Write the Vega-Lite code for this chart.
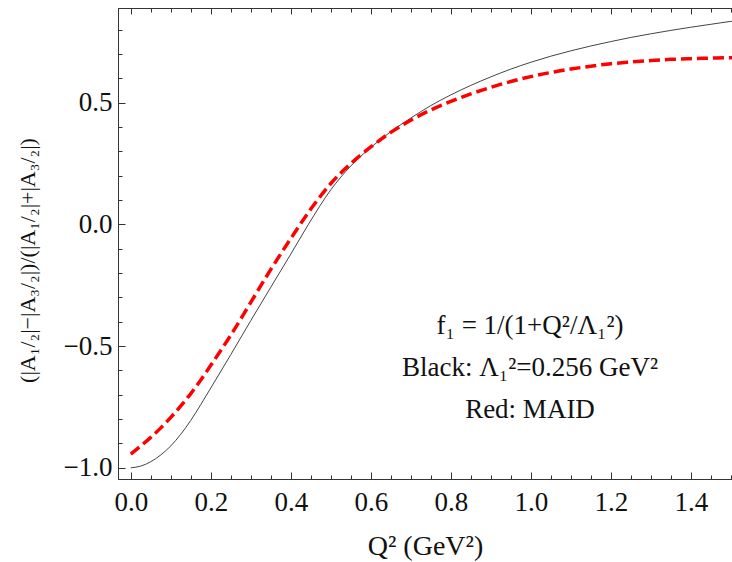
{
  "$schema": "https://vega.github.io/schema/vega-lite/v6.json",
  "width": 614,
  "height": 471,
  "autosize": {"type": "none"},
  "padding": {"left": 118, "top": 8, "right": 0, "bottom": 83},
  "background": "white",
  "config": {
    "view": {"stroke": "#333", "strokeWidth": 1},
    "font": "Times New Roman, Liberation Serif, serif"
  },
  "datasets": {
    "black": [
      {"q": 0.0, "v": -1.0}, {"q": 0.025, "v": -0.993}, {"q": 0.05, "v": -0.975}, {"q": 0.075, "v": -0.947},
      {"q": 0.1, "v": -0.91}, {"q": 0.125, "v": -0.862}, {"q": 0.15, "v": -0.805}, {"q": 0.175, "v": -0.74},
      {"q": 0.2, "v": -0.672}, {"q": 0.25, "v": -0.535}, {"q": 0.3, "v": -0.395}, {"q": 0.35, "v": -0.258},
      {"q": 0.4, "v": -0.122}, {"q": 0.444, "v": 0.0}, {"q": 0.5, "v": 0.142}, {"q": 0.55, "v": 0.24},
      {"q": 0.6, "v": 0.316}, {"q": 0.65, "v": 0.381}, {"q": 0.7, "v": 0.437}, {"q": 0.75, "v": 0.488},
      {"q": 0.8, "v": 0.532}, {"q": 0.85, "v": 0.571}, {"q": 0.9, "v": 0.606}, {"q": 0.95, "v": 0.638},
      {"q": 1.0, "v": 0.666}, {"q": 1.05, "v": 0.691}, {"q": 1.1, "v": 0.713}, {"q": 1.15, "v": 0.733},
      {"q": 1.2, "v": 0.751}, {"q": 1.25, "v": 0.768}, {"q": 1.3, "v": 0.783}, {"q": 1.35, "v": 0.797},
      {"q": 1.4, "v": 0.81}, {"q": 1.45, "v": 0.822}, {"q": 1.5, "v": 0.834}, {"q": 1.51, "v": 0.836}
    ],
    "red": [
      {"q": 0.0, "v": -0.944}, {"q": 0.025, "v": -0.91}, {"q": 0.05, "v": -0.875}, {"q": 0.075, "v": -0.836},
      {"q": 0.1, "v": -0.793}, {"q": 0.125, "v": -0.746}, {"q": 0.15, "v": -0.695}, {"q": 0.175, "v": -0.639},
      {"q": 0.2, "v": -0.579}, {"q": 0.25, "v": -0.455}, {"q": 0.3, "v": -0.32}, {"q": 0.35, "v": -0.185},
      {"q": 0.4, "v": -0.058}, {"q": 0.45, "v": 0.063}, {"q": 0.5, "v": 0.168}, {"q": 0.55, "v": 0.25},
      {"q": 0.6, "v": 0.318}, {"q": 0.65, "v": 0.378}, {"q": 0.7, "v": 0.428}, {"q": 0.75, "v": 0.47},
      {"q": 0.8, "v": 0.505}, {"q": 0.85, "v": 0.536}, {"q": 0.9, "v": 0.563}, {"q": 0.95, "v": 0.587},
      {"q": 1.0, "v": 0.607}, {"q": 1.05, "v": 0.624}, {"q": 1.1, "v": 0.638}, {"q": 1.15, "v": 0.65},
      {"q": 1.2, "v": 0.66}, {"q": 1.25, "v": 0.667}, {"q": 1.3, "v": 0.673}, {"q": 1.35, "v": 0.678},
      {"q": 1.4, "v": 0.681}, {"q": 1.45, "v": 0.683}, {"q": 1.5, "v": 0.685}, {"q": 1.51, "v": 0.685}
    ],
    "notes": [
      {"label": "f₁ = 1/(1+Q²/Λ₁²)", "x": 0.998, "y": -0.418},
      {"label": "Black: Λ₁²=0.256 GeV²", "x": 0.998, "y": -0.591},
      {"label": "Red: MAID", "x": 0.998, "y": -0.763}
    ]
  },
  "resolve": {"scale": {"x": "shared", "y": "shared"}, "axis": {"x": "independent", "y": "independent"}},
  "layer": [
    {
      "mark": {"type": "rule", "color": "#777", "strokeWidth": 1},
      "encoding": {
        "y": {"datum": 0, "type": "quantitative", "scale": {"domain": [-1.046, 0.889], "nice": false, "zero": false}, "axis": null}
      }
    },
    {
      "data": {"name": "black"},
      "mark": {"type": "line", "color": "#444", "strokeWidth": 1, "interpolate": "monotone", "clip": true},
      "encoding": {
        "x": {
          "field": "q", "type": "quantitative",
          "scale": {"domain": [-0.032, 1.503], "nice": false, "zero": false},
          "axis": {
            "orient": "bottom",
            "values": [0,0.05,0.1,0.15,0.2,0.25,0.3,0.35,0.4,0.45,0.5,0.55,0.6,0.65,0.7,0.75,0.8,0.85,0.9,0.95,1,1.05,1.1,1.15,1.2,1.25,1.3,1.35,1.4,1.45,1.5],
            "labelExpr": "abs(datum.value*5 - round(datum.value*5)) < 0.000001 && datum.value < 1.45 ? format(datum.value, '.1f') : ''",
            "tickSize": {"condition": {"test": "abs(datum.value*5 - round(datum.value*5)) < 0.000001", "value": -7}, "value": -4},
            "tickColor": "#333", "domainColor": "#333", "grid": false,
            "labelFont": "Times New Roman, Liberation Serif, serif", "labelFontSize": 27, "labelColor": "#111", "labelPadding": 17,
            "labelFlush": false, "labelOverlap": false,
            "title": "Q² (GeV²)", "titleFont": "Times New Roman, Liberation Serif, serif", "titleFontSize": 28, "titleFontWeight": "normal",
            "titleColor": "#111", "titlePadding": 14
          }
        },
        "y": {
          "field": "v", "type": "quantitative",
          "axis": {
            "orient": "left",
            "values": [-1,-0.9,-0.8,-0.7,-0.6,-0.5,-0.4,-0.3,-0.2,-0.1,0,0.1,0.2,0.3,0.4,0.5,0.6,0.7,0.8],
            "labelExpr": "abs(datum.value*2 - round(datum.value*2)) < 0.000001 ? replace(format(datum.value, '.1f'), '-', '−') : ''",
            "tickSize": {"condition": {"test": "abs(datum.value*2 - round(datum.value*2)) < 0.000001", "value": -7}, "value": -4},
            "tickColor": "#333", "domainColor": "#333", "grid": false,
            "labelFont": "Times New Roman, Liberation Serif, serif", "labelFontSize": 27, "labelColor": "#111", "labelPadding": 13,
            "labelOverlap": false, "labelFlush": false,
            "title": "(|A₁/₂|−|A₃/₂|)/(|A₁/₂|+|A₃/₂|)", "titleFont": "Times New Roman, Liberation Serif, serif", "titleFontSize": 22,
            "titleFontWeight": "normal", "titleColor": "#111", "titlePadding": 24, "titleY": 252
          }
        }
      }
    },
    {
      "data": {"name": "red"},
      "mark": {"type": "line", "color": "#ff0000", "strokeWidth": 3.5, "strokeDash": [11, 5], "interpolate": "monotone", "clip": true},
      "encoding": {
        "x": {
          "field": "q", "type": "quantitative",
          "axis": {
            "orient": "top",
            "values": [0,0.05,0.1,0.15,0.2,0.25,0.3,0.35,0.4,0.45,0.5,0.55,0.6,0.65,0.7,0.75,0.8,0.85,0.9,0.95,1,1.05,1.1,1.15,1.2,1.25,1.3,1.35,1.4,1.45,1.5],
            "labels": false, "title": null,
            "tickSize": {"condition": {"test": "abs(datum.value*5 - round(datum.value*5)) < 0.000001", "value": -6}, "value": -4},
            "tickColor": "#333", "domainColor": "#333", "grid": false
          }
        },
        "y": {"field": "v", "type": "quantitative", "axis": null}
      }
    },
    {
      "data": {"name": "notes"},
      "mark": {"type": "text", "font": "Times New Roman, Liberation Serif, serif", "fontSize": 27, "color": "#111", "align": "center", "baseline": "middle"},
      "encoding": {
        "x": {"field": "x", "type": "quantitative", "axis": null},
        "y": {"field": "y", "type": "quantitative", "axis": null},
        "text": {"field": "label"}
      }
    }
  ]
}
